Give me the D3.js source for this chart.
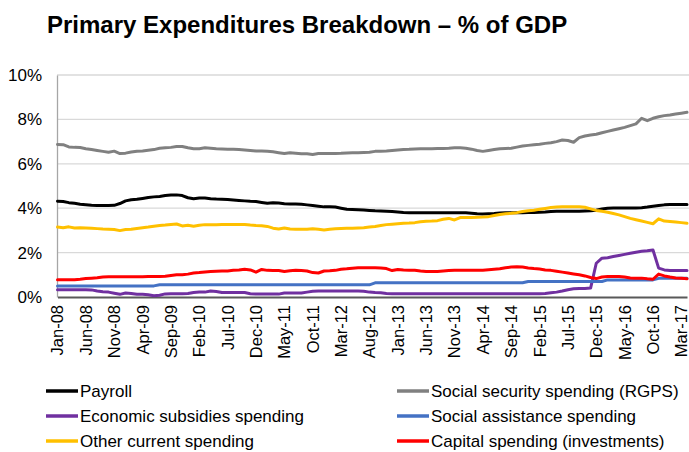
<!DOCTYPE html>
<html>
<head>
<meta charset="utf-8">
<script src="https://cdn.jsdelivr.net/npm/d3@7"></script>
<style>
  body { margin: 0; background: #fff; }
  svg { display: block; font-family: "Liberation Sans", Arial, sans-serif; }
</style>
</head>
<body>
<svg id="chart" width="689" height="452"></svg>
<script>
// Monthly categories, Jan-08 .. Apr-17
const months = d3.timeMonths(new Date(2008, 0, 1), new Date(2017, 4, 1)).map(d3.timeFormat("%b-%y"));

const tickLabels = ["Jan-08","Jun-08","Nov-08","Apr-09","Sep-09","Feb-10","Jul-10","Dec-10",
  "May-11","Oct-11","Mar-12","Aug-12","Jan-13","Jun-13","Nov-13","Apr-14","Sep-14",
  "Feb-15","Jul-15","Dec-15","May-16","Oct-16","Mar-17"];

const yTicks = [0, 2, 4, 6, 8, 10];

// % of GDP
const payroll = [
  4.31,4.30,4.25,4.22,4.18,4.16,4.13,4.12,4.12,4.12,
  4.13,4.21,4.33,4.38,4.40,4.44,4.48,4.51,4.53,4.57,
  4.59,4.60,4.57,4.47,4.43,4.46,4.46,4.43,4.41,4.40,
  4.39,4.37,4.35,4.33,4.31,4.30,4.26,4.22,4.25,4.23,
  4.20,4.19,4.19,4.18,4.15,4.12,4.09,4.06,4.07,4.05,
  4.00,3.95,3.94,3.93,3.92,3.90,3.88,3.87,3.86,3.85,
  3.83,3.81,3.80,3.79,3.79,3.79,3.79,3.80,3.79,3.79,
  3.79,3.79,3.79,3.77,3.75,3.74,3.75,3.76,3.78,3.79,
  3.79,3.80,3.80,3.81,3.81,3.82,3.83,3.85,3.86,3.86,
  3.86,3.86,3.86,3.87,3.88,3.91,3.96,4.00,4.01,4.01,
  4.01,4.01,4.01,4.02,4.05,4.09,4.12,4.15,4.17,4.17,4.17,4.17
];

const socialSecurity = [
  6.87,6.86,6.76,6.74,6.73,6.68,6.64,6.60,6.56,6.52,
  6.57,6.46,6.48,6.53,6.57,6.58,6.61,6.64,6.70,6.72,
  6.74,6.78,6.78,6.72,6.68,6.68,6.72,6.70,6.68,6.67,
  6.66,6.65,6.64,6.62,6.60,6.58,6.58,6.57,6.54,6.50,
  6.46,6.50,6.48,6.45,6.45,6.42,6.46,6.46,6.46,6.46,
  6.47,6.49,6.50,6.50,6.51,6.52,6.56,6.57,6.58,6.60,
  6.62,6.64,6.65,6.67,6.68,6.68,6.68,6.69,6.69,6.70,
  6.72,6.72,6.70,6.66,6.60,6.56,6.60,6.64,6.68,6.69,
  6.70,6.75,6.80,6.83,6.86,6.88,6.92,6.95,7.00,7.07,
  7.05,6.97,7.18,7.25,7.30,7.33,7.40,7.46,7.52,7.58,
  7.64,7.72,7.80,8.05,7.94,8.05,8.12,8.17,8.20,8.24,8.28,8.32
];

const economicSubsidies = [
  0.33,0.33,0.33,0.33,0.33,0.33,0.32,0.27,0.24,0.22,
  0.17,0.12,0.18,0.16,0.12,0.12,0.10,0.06,0.08,0.14,
  0.15,0.15,0.15,0.16,0.20,0.22,0.22,0.27,0.25,0.20,
  0.20,0.20,0.20,0.20,0.15,0.13,0.13,0.13,0.13,0.13,
  0.18,0.18,0.18,0.18,0.22,0.26,0.27,0.27,0.27,0.27,
  0.27,0.27,0.27,0.27,0.26,0.22,0.20,0.19,0.16,0.15,
  0.15,0.15,0.15,0.15,0.15,0.15,0.15,0.15,0.15,0.15,
  0.15,0.15,0.15,0.15,0.15,0.15,0.15,0.15,0.15,0.15,
  0.15,0.15,0.15,0.15,0.15,0.15,0.16,0.19,0.22,0.27,
  0.33,0.37,0.38,0.38,0.40,1.52,1.75,1.77,1.82,1.87,
  1.92,1.97,2.02,2.06,2.08,2.12,1.30,1.22,1.19,1.19,1.19,1.19
];

const socialAssistance = [
  0.50,0.50,0.50,0.50,0.50,0.50,0.50,0.50,0.50,0.50,
  0.50,0.50,0.50,0.50,0.50,0.50,0.50,0.50,0.55,0.55,
  0.55,0.55,0.55,0.55,0.55,0.55,0.55,0.55,0.55,0.55,
  0.55,0.55,0.55,0.55,0.55,0.55,0.55,0.55,0.55,0.55,
  0.55,0.55,0.55,0.55,0.55,0.55,0.55,0.55,0.55,0.55,
  0.55,0.55,0.55,0.55,0.55,0.55,0.64,0.64,0.64,0.64,
  0.64,0.64,0.64,0.64,0.64,0.64,0.64,0.64,0.64,0.64,
  0.64,0.64,0.64,0.64,0.64,0.64,0.64,0.64,0.64,0.64,
  0.64,0.64,0.64,0.70,0.70,0.70,0.70,0.70,0.70,0.70,
  0.70,0.70,0.70,0.70,0.70,0.70,0.70,0.77,0.77,0.77,
  0.77,0.77,0.77,0.77,0.77,0.77,0.84,0.84,0.84,0.84,0.84,0.84
];

const otherCurrent = [
  3.15,3.12,3.16,3.11,3.12,3.11,3.10,3.08,3.06,3.05,
  3.04,2.99,3.04,3.05,3.09,3.12,3.15,3.19,3.22,3.24,
  3.27,3.29,3.20,3.23,3.19,3.23,3.26,3.26,3.26,3.27,
  3.27,3.27,3.27,3.27,3.24,3.22,3.21,3.18,3.10,3.06,
  3.11,3.06,3.05,3.05,3.05,3.07,3.05,3.02,3.05,3.07,
  3.09,3.10,3.10,3.11,3.12,3.15,3.18,3.22,3.26,3.28,
  3.30,3.32,3.33,3.35,3.39,3.41,3.42,3.44,3.50,3.54,
  3.47,3.58,3.58,3.58,3.59,3.60,3.62,3.67,3.72,3.75,
  3.77,3.80,3.85,3.88,3.91,3.95,3.99,4.03,4.05,4.06,
  4.06,4.06,4.06,4.04,3.97,3.90,3.86,3.82,3.76,3.70,
  3.62,3.54,3.48,3.42,3.36,3.30,3.52,3.42,3.40,3.38,3.35,3.32
];

const capital = [
  0.78,0.78,0.78,0.78,0.80,0.83,0.85,0.87,0.90,0.91,
  0.91,0.91,0.91,0.91,0.91,0.91,0.92,0.92,0.92,0.93,
  0.97,1.00,1.00,1.03,1.08,1.10,1.13,1.15,1.16,1.17,
  1.17,1.20,1.22,1.25,1.22,1.12,1.24,1.20,1.19,1.19,
  1.15,1.18,1.20,1.19,1.17,1.10,1.08,1.17,1.18,1.20,
  1.25,1.27,1.30,1.32,1.32,1.32,1.32,1.31,1.28,1.19,
  1.24,1.22,1.21,1.20,1.17,1.15,1.15,1.15,1.17,1.19,
  1.20,1.20,1.20,1.20,1.20,1.21,1.23,1.25,1.27,1.32,
  1.35,1.36,1.35,1.31,1.28,1.26,1.22,1.20,1.16,1.12,
  1.08,1.04,1.00,0.95,0.88,0.83,0.90,0.92,0.92,0.92,
  0.90,0.86,0.85,0.85,0.82,0.80,1.03,0.95,0.90,0.86,0.84,0.82
];

const seriesNames = ["Payroll", "Social security spending (RGPS)", "Economic subsidies spending",
  "Social assistance spending", "Other current spending", "Capital spending (investments)"];
const seriesValues = [payroll, socialSecurity, economicSubsidies, socialAssistance, otherCurrent, capital];
const seriesColors = ["#000000", "#808080", "#7030a0", "#4472c4", "#ffc000", "#ff0000"];

const svg = d3.select("#chart");
const plot = { left: 57, right: 689, top: 75, bottom: 297 };

const x = d3.scalePoint().domain(months).range([57.5, 687]).padding(0);
const y = d3.scaleLinear().domain([0, 10]).range([plot.bottom, plot.top]);

// Title
svg.append("text")
  .attr("x", 47).attr("y", 33)
  .attr("font-size", 24).attr("font-weight", "bold").attr("fill", "#000")
  .text("Primary Expenditures Breakdown \u2013 % of GDP");

// Horizontal gridlines
svg.append("g").selectAll("line").data(yTicks.filter(d => d > 0)).join("line")
  .attr("x1", plot.left).attr("x2", plot.right)
  .attr("y1", d => y(d)).attr("y2", d => y(d))
  .attr("stroke", "#d9d9d9").attr("stroke-width", 1.3);

// Y axis
const yAxis = svg.append("g")
  .attr("transform", `translate(${plot.left},0)`)
  .call(d3.axisLeft(y).tickValues(yTicks).tickFormat(d => d + "%").tickSize(0).tickPadding(15));
yAxis.select(".domain").attr("stroke", "#a6a6a6").attr("stroke-width", 1.3);
yAxis.selectAll("text").attr("font-size", 17).attr("fill", "#000")
  .attr("font-family", "'Liberation Sans', Arial, sans-serif");

// X axis
const xAxis = svg.append("g")
  .attr("transform", `translate(0,${plot.bottom})`)
  .call(d3.axisBottom(x).tickValues(tickLabels).tickSize(0).tickPadding(0));
xAxis.select(".domain").attr("stroke", "#595959").attr("stroke-width", 2);
xAxis.selectAll("text")
  .attr("font-size", 16.5).attr("fill", "#000")
  .attr("font-family", "'Liberation Sans', Arial, sans-serif")
  .attr("text-anchor", "end")
  .attr("transform", "rotate(-90)")
  .attr("x", -8).attr("y", 0).attr("dy", "0.33em");

// Series lines
const line = d3.line().x((d, i) => x(months[i])).y(d => y(d)).curve(d3.curveLinear);
svg.append("g").selectAll("path").data(seriesValues).join("path")
  .attr("d", d => line(d))
  .attr("fill", "none")
  .attr("stroke", (d, i) => seriesColors[i])
  .attr("stroke-width", 3)
  .attr("stroke-linejoin", "round")
  .attr("stroke-linecap", "round");

// Legend: two columns, three rows
const legendCols = [46, 397];
const legendRows = [391, 416, 441];
const legend = svg.append("g").selectAll("g").data(seriesNames).join("g")
  .attr("transform", (d, i) => `translate(${legendCols[i % 2]},${legendRows[Math.floor(i / 2)]})`);
legend.append("line")
  .attr("x1", 0).attr("x2", 32).attr("y1", 0).attr("y2", 0)
  .attr("stroke", (d, i) => seriesColors[i]).attr("stroke-width", 3.5);
legend.append("text")
  .attr("x", 34).attr("y", 0).attr("dy", "0.36em")
  .attr("font-size", 17).attr("fill", "#000")
  .text(d => d);
</script>
</body>
</html>
